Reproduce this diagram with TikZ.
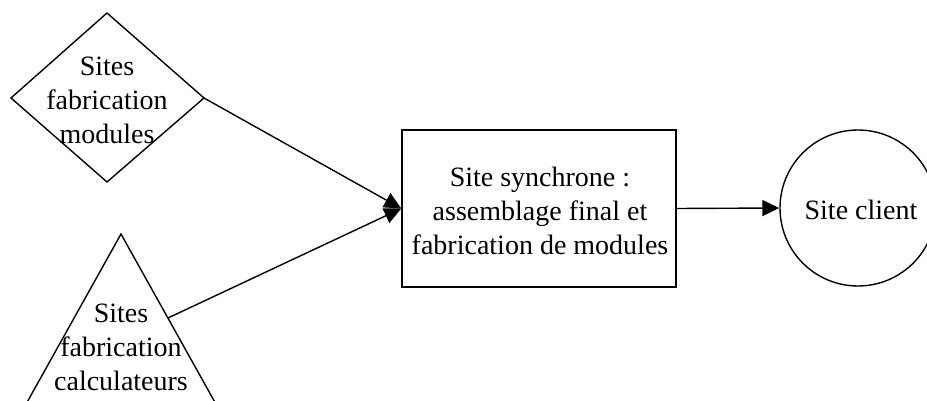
\documentclass[tikz,border=0pt]{standalone}
\usepackage{fontspec}
\setmainfont{Liberation Serif}
\usetikzlibrary{arrows.meta,shapes.geometric}
\begin{document}
\begin{tikzpicture}[x=1pt,y=-1pt,
  lbl/.style={align=center,font=\fontsize{28}{34}\selectfont,inner sep=0pt},
  edge/.style={line width=1.4pt},
  arr/.style={edge,-{Triangle[length=17pt,width=16pt]}}]
\useasboundingbox (0,0) rectangle (927,401);
\clip (0,0) rectangle (927,401);
% diamond
\draw[edge] (107,13) -- (204,98) -- (107,182) -- (11,98) -- cycle;
\coordinate (dR) at (204,98);
\node[lbl] (dT) at (107,100) {Sites\\fabrication\\modules};
% triangle
\draw[edge] (121,234) -- (236,440) -- (6,440) -- cycle;
\coordinate (tR) at (168,318);
\node[lbl] (tT) at (121,347) {Sites\\fabrication\\calculateurs};
% box
\node[draw,edge,minimum width=274pt,minimum height=157pt,inner sep=0pt] (box) at (539,208.5) {};
\node[lbl] (boxT) at (540,211) {Site synchrone :\\assemblage final et\\fabrication de modules};
% circle
\node[draw,edge,circle,minimum size=156pt,inner sep=0pt] (cl) at (858,208) {};
\node[lbl] (clT) at (861,210) {Site client};
% connectors
\draw[arr] (dR) -- (box.west);
\draw[arr] (tR) -- (box.west);
\draw[arr] (box.east) -- (cl.west);
\end{tikzpicture}
\end{document}
